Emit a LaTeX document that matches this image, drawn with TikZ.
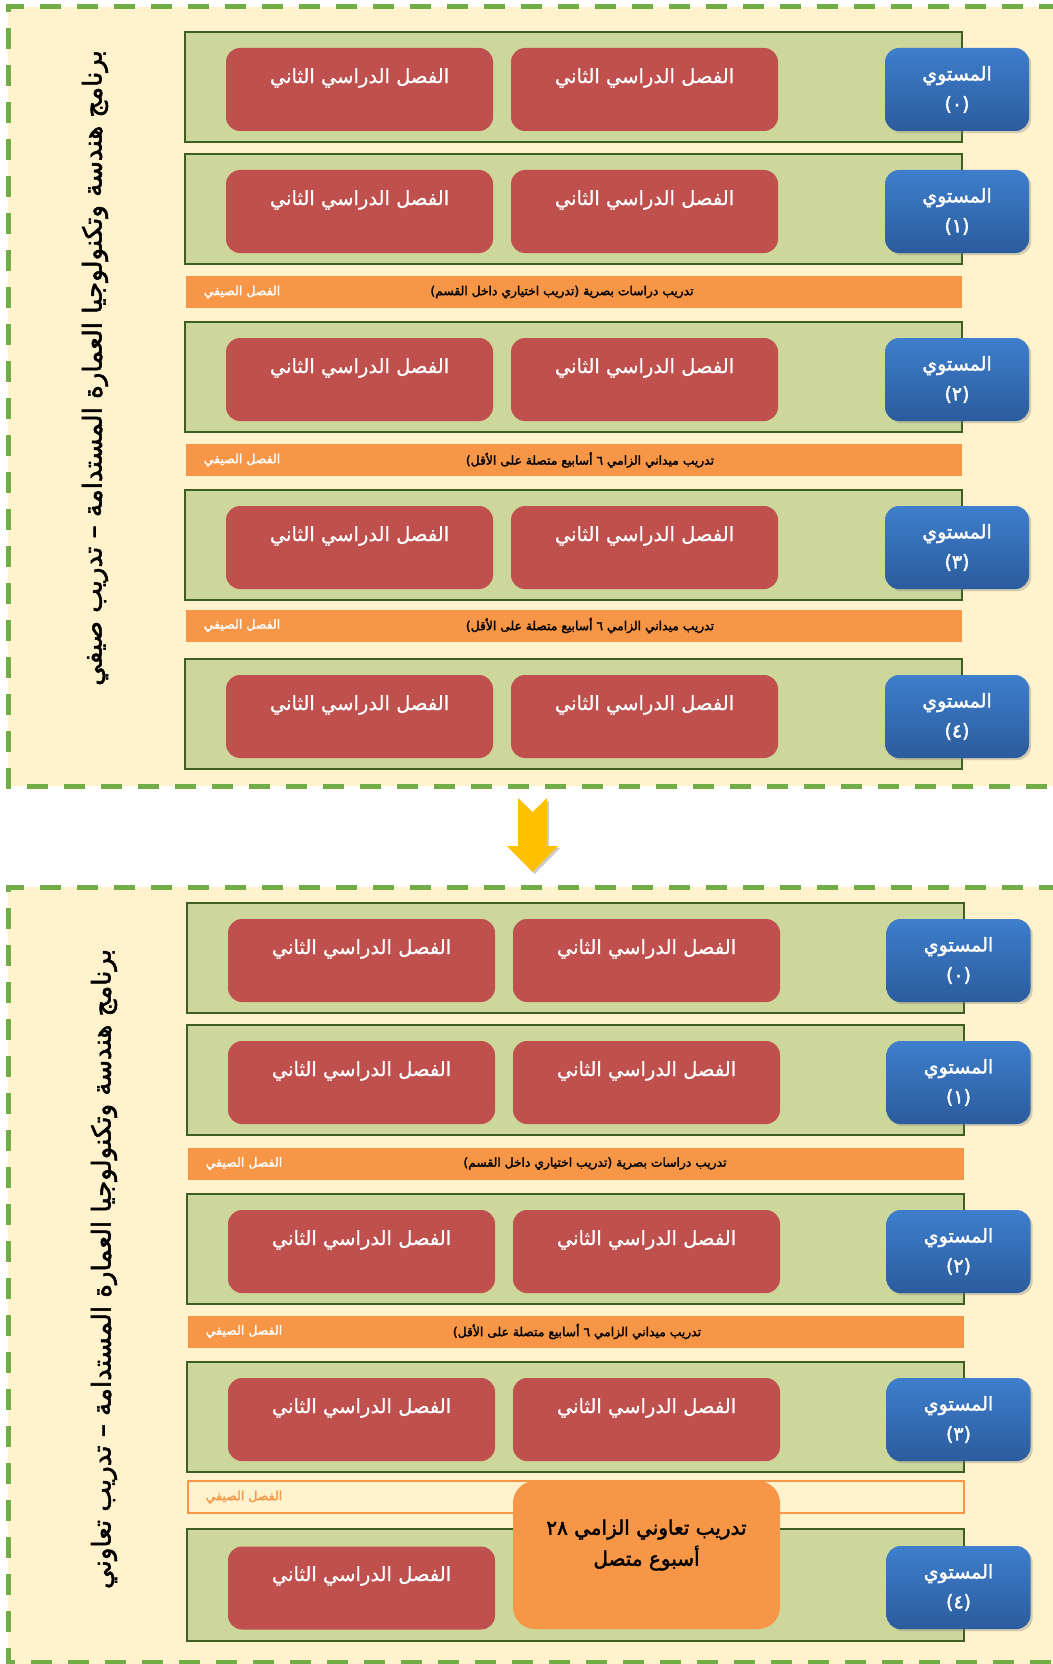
\documentclass[tikz,border=0pt]{standalone}
\usepackage{fontspec}
\usetikzlibrary{shadows}
\TeXXeTstate=1
\newfontfamily\arab[Script=Arabic,FakeBold=0.6]{DejaVu Sans}
\newfontfamily\arabb[Script=Arabic,FakeBold=2]{DejaVu Sans}

\definecolor{cream}{HTML}{FFF2CC}
\definecolor{dashgreen}{HTML}{70AD47}
\definecolor{rowfill}{HTML}{CDD79B}
\definecolor{rowedge}{HTML}{3F5E24}
\definecolor{semred}{HTML}{C0504D}
\definecolor{lvtop}{HTML}{3E7ECB}
\definecolor{lvbot}{HTML}{2B5C9D}
\definecolor{bandorange}{HTML}{F79646}
\definecolor{arrowyellow}{HTML}{FFC000}

\tikzset{
  panelborder/.style={draw=dashgreen, line width=5pt, dash pattern=on 21pt off 16pt},
  levelrow/.style={draw=rowedge, fill=rowfill, line width=2.5pt, minimum width=777pt, minimum height=110pt, inner sep=0pt},
  semester/.style={fill=semred, rounded corners=14pt, minimum width=267pt, minimum height=83pt, inner sep=0pt},
  semtext/.style={text=white, font=\arab\fontsize{19.5}{23}\selectfont, inner sep=0pt},
  levelbox/.style={rounded corners=14pt, top color=lvtop, bottom color=lvbot, minimum width=144pt, minimum height=83pt, inner sep=0pt, text=white, align=center, font=\arabb\fontsize{19}{30}\selectfont, drop shadow={opacity=0.35}},
  band/.style={fill=bandorange, minimum width=776pt, minimum height=32pt, inner sep=0pt},
  bandtext/.style={font=\arabb\fontsize{12.3}{14}\selectfont, inner sep=0pt},
  summertext/.style={text=white, font=\arabb\fontsize{12.5}{14}\selectfont, inner sep=0pt},
  titletext/.style={font=\arabb\fontsize{26}{30}\selectfont, rotate=90, inner sep=0pt},
  coopbox/.style={fill=bandorange, rounded corners=22pt, minimum width=267pt, minimum height=148pt, inner sep=0pt},
  cooptext/.style={align=center, font=\arabb\fontsize{20}{31}\selectfont, inner sep=0pt},
}

\begin{document}
\begin{tikzpicture}[x=1pt,y=-1pt]
\useasboundingbox (0,0) rectangle (1052,1664);

% ---------- summer training panel ----------
\fill[cream] (8,7) rectangle (1060,786);
\draw[panelborder] (1060,7) -- (8,7) -- (8,786) -- (1060,786);

\foreach \n/\yt/\lv in {0/32/٠,1/154/١,2/322/٢,3/490/٣,4/659/٤}{
  \node[levelrow] (tr\n) at (573.5,\yt+55) {};
  \node[semester] (ta\n) at (359.5,\yt+57.5) {};
  \node[semester] (tb\n) at (644.5,\yt+57.5) {};
  \node[semtext] (tat\n) at (359.5,\yt+46) {\beginR الفصل الدراسي الثاني\endR};
  \node[semtext] (tbt\n) at (644.5,\yt+46) {\beginR الفصل الدراسي الثاني\endR};
  \node[levelbox] (tl\n) at (957,\yt+57.5) {\beginR المستوي\endR\\\beginR(\lv)\endR};
}

\node[band] (tband1) at (574,292) {};
\node[bandtext] (tband1t) at (562,292) {\beginR تدريب دراسات بصرية (تدريب اختياري داخل القسم)\endR};
\node[summertext] (tband1s) at (242,292) {\beginR الفصل الصيفي\endR};

\node[band] (tband2) at (574,460) {};
\node[bandtext] (tband2t) at (590,460) {\beginR تدريب ميداني الزامي ٦ أسابيع متصلة على الأقل)\endR};
\node[summertext] (tband2s) at (242,460) {\beginR الفصل الصيفي\endR};

\node[band] (tband3) at (574,625.5) {};
\node[bandtext] (tband3t) at (590,625.5) {\beginR تدريب ميداني الزامي ٦ أسابيع متصلة على الأقل)\endR};
\node[summertext] (tband3s) at (242,625.5) {\beginR الفصل الصيفي\endR};

\node[titletext] (ttitle) at (95,368) {\beginR برنامج هندسة وتكنولوجيا العمارة المستدامة – تدريب صيفي\endR};

% ---------- arrow between the two programmes ----------
\fill[arrowyellow, drop shadow={opacity=0.4}]
  (518,798) -- (532.5,812) -- (547,798) -- (547,846) -- (558,846)
  -- (532.5,872) -- (507,846) -- (518,846) -- cycle;

% ---------- cooperative training panel ----------
\fill[cream] (8,887) rectangle (1060,1670);
\draw[panelborder] (1060,887) -- (8,887) -- (8,1662) -- (1060,1662);

\foreach \n/\yt/\lv in {0/903/٠,1/1025/١,2/1194/٢,3/1362/٣}{
  \node[levelrow] (br\n) at (575.5,\yt+55) {};
  \node[semester] (ba\n) at (361.5,\yt+57.5) {};
  \node[semester] (bb\n) at (646.5,\yt+57.5) {};
  \node[semtext] (bat\n) at (361.5,\yt+46) {\beginR الفصل الدراسي الثاني\endR};
  \node[semtext] (bbt\n) at (646.5,\yt+46) {\beginR الفصل الدراسي الثاني\endR};
  \node[levelbox] (bl\n) at (958.5,\yt+57.5) {\beginR المستوي\endR\\\beginR(\lv)\endR};
}

\node[band] (bband1) at (576,1163.5) {};
\node[bandtext] (bband1t) at (595,1163.5) {\beginR تدريب دراسات بصرية (تدريب اختياري داخل القسم)\endR};
\node[summertext] (bband1s) at (244,1163.5) {\beginR الفصل الصيفي\endR};

\node[band] (bband2) at (576,1331.5) {};
\node[bandtext] (bband2t) at (577,1331.5) {\beginR تدريب ميداني الزامي ٦ أسابيع متصلة على الأقل)\endR};
\node[summertext] (bband2s) at (244,1331.5) {\beginR الفصل الصيفي\endR};

% summer term left open (outlined only)
\node[band, fill=cream, draw=bandorange, line width=1.5pt] (bband3) at (576,1497) {};
\node[summertext, text=bandorange] (bband3s) at (244,1497) {\beginR الفصل الصيفي\endR};

% level 4 with the cooperative placement
\node[levelrow, minimum height=112pt] (br4) at (575.5,1585) {};
\node[semester] (ba4) at (361.5,1588) {};
\node[semtext] (bat4) at (361.5,1576) {\beginR الفصل الدراسي الثاني\endR};
\node[levelbox] (bl4) at (958.5,1587.5) {\beginR المستوي\endR\\\beginR(٤)\endR};
\node[coopbox] (coop) at (646.5,1555) {};
\node[cooptext] (coopt) at (646.5,1545) {\beginR تدريب تعاوني الزامي ٢٨\endR\\\beginR أسبوع متصل\endR};

\node[titletext] (btitle) at (104,1269) {\beginR برنامج هندسة وتكنولوجيا العمارة المستدامة – تدريب تعاوني\endR};

\end{tikzpicture}
\end{document}
